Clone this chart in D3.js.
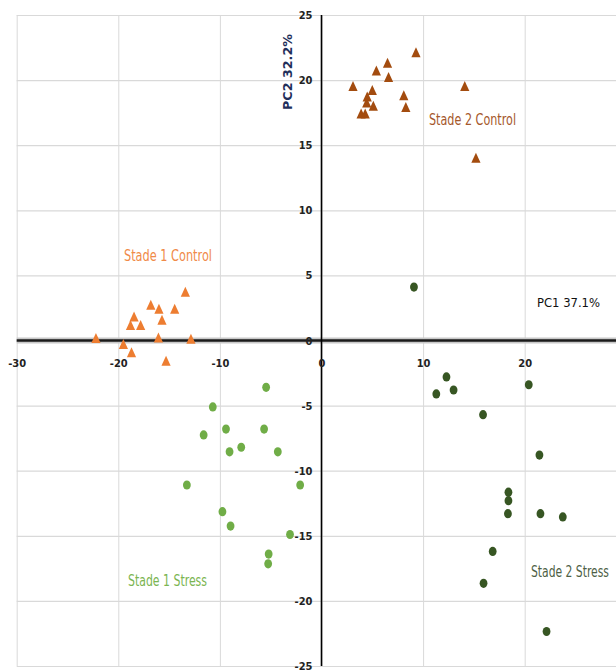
<!DOCTYPE html>
<html>
<head>
<meta charset="utf-8">
<script src="https://cdn.jsdelivr.net/npm/d3@7"></script>
<style>
  body { margin: 0; background: #fff; }
  svg { display: block; }
  .tick text { font-family: "DejaVu Sans Condensed", "Liberation Sans", sans-serif; font-weight: bold; font-size: 11px; fill: #222; }
</style>
</head>
<body>
<svg id="chart"></svg>
<script>
// PCA scores
var s2ControlX = [9.3, 6.5, 5.4, 6.6, 3.1, 5.0, 4.5, 8.1, 4.45, 5.1, 8.3, 3.9, 4.3, 14.1, 15.2]
var s2ControlY = [22.1, 21.3, 20.7, 20.2, 19.5, 19.2, 18.7, 18.8, 18.25, 18.0, 17.9, 17.4, 17.4, 19.5, 14.0]

var s1ControlX = [-13.4, -16.8, -16.0, -14.45, -18.45, -15.7, -18.8, -17.8, -22.2, -16.05, -12.85, -19.5, -18.7, -15.3]
var s1ControlY = [3.7, 2.7, 2.4, 2.4, 1.8, 1.55, 1.15, 1.15, 0.15, 0.2, 0.1, -0.3, -0.95, -1.6]

var s1StressX = [-5.45, -10.7, -11.6, -9.4, -5.65, -7.9, -9.05, -4.3, -13.25, -2.1, -9.75, -8.95, -3.1, -5.2, -5.25]
var s1StressY = [-3.6, -5.1, -7.25, -6.8, -6.8, -8.2, -8.55, -8.55, -11.1, -11.1, -13.15, -14.25, -14.9, -16.4, -17.15]

var s2StressX = [9.1, 12.3, 11.3, 13.0, 20.4, 15.9, 21.45, 18.4, 18.4, 18.35, 21.55, 23.75, 16.85, 15.95, 22.15]
var s2StressY = [4.1, -2.8, -4.1, -3.8, -3.4, -5.7, -8.8, -11.65, -12.3, -13.3, -13.3, -13.55, -16.2, -18.65, -22.35]

var xTicks = [-30, -20, -10, 0, 10, 20]
var yTicks = [-25, -20, -15, -10, -5, 0, 5, 10, 15, 20, 25]

width = 616
height = 672

var svg = d3.select('#chart')
	.attr('width', width)
	.attr('height', height)

var x = d3.scaleLinear().domain([-30, 30]).range([16.7, 626.3])
var y = d3.scaleLinear().domain([-25, 25]).range([666, 15])

// plain hyphen like the original, not the unicode minus
var fmt = function(d){ return String(d) }

// gridlines
svg.append('g')
	.attr('transform', 'translate(0,15)')
	.call(d3.axisTop(x).tickValues(xTicks).tickSize(-651).tickFormat(''))
	.call(function(g){ g.select('.domain').remove() })
	.selectAll('line').attr('stroke', '#d9d9d9')

svg.append('g')
	.attr('transform', 'translate(' + x(-30) + ',0)')
	.call(d3.axisLeft(y).tickValues(yTicks).tickSize(-(width - x(-30))).tickFormat(''))
	.call(function(g){ g.select('.domain').remove() })
	.selectAll('line').attr('stroke', '#d9d9d9').attr('stroke-width', 1.2)

// main axes lines
svg.append('line')
	.attr('x1', x(-30)).attr('x2', width)
	.attr('y1', y(0)).attr('y2', y(0))
	.attr('stroke', '#c8c8c8').attr('stroke-width', 6)
svg.append('line')
	.attr('x1', x(-30)).attr('x2', width)
	.attr('y1', y(0)).attr('y2', y(0))
	.attr('stroke', '#1a1a1a').attr('stroke-width', 2.6)
svg.append('line')
	.attr('x1', x(0)).attr('x2', x(0))
	.attr('y1', y(25)).attr('y2', y(-25))
	.attr('stroke', '#000').attr('stroke-width', 1.6)

// tick labels
var xAxis = svg.append('g')
	.attr('transform', 'translate(0,' + y(0) + ')')
	.call(d3.axisBottom(x).tickValues(xTicks).tickFormat(fmt).tickSize(0).tickPadding(19))
xAxis.select('.domain').remove()

var yAxis = svg.append('g')
	.attr('transform', 'translate(' + x(0) + ',0)')
	.call(d3.axisLeft(y).tickValues(yTicks).tickFormat(fmt).tickSize(0).tickPadding(9))
yAxis.select('.domain').remove()

function tri(px, py){
	return 'M' + px + ',' + (py - 5.5) + 'L' + (px + 4.6) + ',' + (py + 4.5) + 'L' + (px - 4.6) + ',' + (py + 4.5) + 'Z'
}

function drawTri(xs, ys, col){
	svg.append('g').selectAll('path')
		.data(d3.zip(xs, ys))
		.join('path')
		.attr('d', function(d){ return tri(x(d[0]), y(d[1])) })
		.attr('fill', col)
}

function drawDot(xs, ys, col){
	svg.append('g').selectAll('ellipse')
		.data(d3.zip(xs, ys))
		.join('ellipse')
		.attr('cx', function(d){ return x(d[0]) })
		.attr('cy', function(d){ return y(d[1]) })
		.attr('rx', 3.9)
		.attr('ry', 4.6)
		.attr('fill', col)
}

drawTri(s2ControlX, s2ControlY, '#a34c0f')
drawTri(s1ControlX, s1ControlY, '#ed7d31')
drawDot(s1StressX, s1StressY, '#70ad47')
drawDot(s2StressX, s2StressY, '#375623')

// group labels (narrow font squeezed to the widths in the picture)
var groupFont = '"DejaVu Sans Condensed", "Liberation Sans", sans-serif'
function label(txt, px, py, w, col){
	svg.append('text')
		.attr('x', px).attr('y', py)
		.attr('font-family', groupFont)
		.attr('font-size', 15)
		.attr('textLength', w)
		.attr('lengthAdjust', 'spacingAndGlyphs')
		.attr('fill', col)
		.text(txt)
}
label('Stade 2 Control', 429, 125, 87, '#a5582c')
label('Stade 1 Control', 124, 261, 88, '#f08a48')
label('Stade 1 Stress', 128, 586, 79, '#7bb551')
label('Stade 2 Stress', 531, 577, 78, '#4e5f46')

// axis titles
svg.append('text')
	.attr('x', 537).attr('y', 307)
	.attr('font-family', groupFont)
	.attr('font-size', 12)
	.attr('textLength', 63)
	.attr('lengthAdjust', 'spacingAndGlyphs')
	.attr('fill', '#111')
	.text('PC1 37.1%')

svg.append('text')
	.attr('transform', 'translate(292,72) rotate(-90)')
	.attr('text-anchor', 'middle')
	.attr('font-family', groupFont)
	.attr('font-weight', 'bold')
	.attr('font-size', 12.5)
	.attr('textLength', 76)
	.attr('lengthAdjust', 'spacingAndGlyphs')
	.attr('fill', '#1f2f5a')
	.text('PC2 32.2%')
</script>
</body>
</html>
